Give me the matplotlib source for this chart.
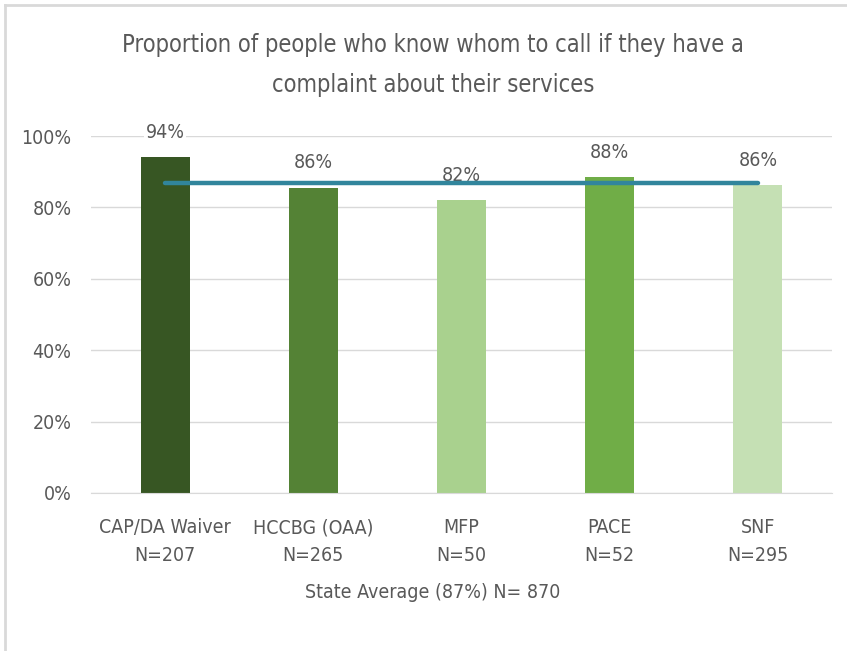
import matplotlib.pyplot as plt
from matplotlib.ticker import PercentFormatter
from matplotlib import font_manager

categories = ["CAP/DA Waiver", "HCCBG (OAA)", "MFP", "PACE", "SNF"]
sample_sizes = ["N=207", "N=265", "N=50", "N=52", "N=295"]
values = [94.1, 85.5, 82.1, 88.4, 86.2]
value_labels = ["94%", "86%", "82%", "88%", "86%"]
state_average = 86.8
bar_colors = ["#375623", "#548235", "#A9D18E", "#70AD47", "#C5E0B4"]

condensed = any("Condensed" in f.fname for f in font_manager.fontManager.ttflist
                if f.name == "DejaVu Sans")
plt.rcParams['font.family'] = ['DejaVu Sans']
if condensed:
    plt.rcParams['font.stretch'] = 'condensed'
scale = 1.0 if condensed else 0.86
text_gray = "#595959"

fig = plt.figure(figsize=(8.47, 6.51), dpi=100)
ax = fig.add_axes([91 / 847, 1 - 493 / 651, 741 / 847, 357 / 651])

x = list(range(len(categories)))
ax.bar(x, values, width=0.33, color=bar_colors, zorder=2)
ax.plot([x[0], x[-1]], [state_average] * 2, color="#31859C", lw=3.2,
        solid_capstyle="round", zorder=4)

for xi, v, lab in zip(x, values, value_labels):
    ax.annotate(lab, (xi, v), xytext=(0, 11), textcoords="offset points",
                ha="center", va="bottom", fontsize=14 * scale, color=text_gray,
                bbox=dict(facecolor="white", edgecolor="none", pad=1), zorder=3)

ax.set_xlim(-0.5, len(categories) - 0.5)
ax.set_ylim(0, 100)
ax.set_yticks(range(0, 101, 20))
ax.yaxis.set_major_formatter(PercentFormatter(decimals=0))
ax.grid(axis="y", color="#D9D9D9", lw=1, zorder=0)
ax.set_xticks(x)
ax.set_xticklabels([f"{c}\n{n}" for c, n in zip(categories, sample_sizes)],
                   linespacing=1.6)
ax.tick_params(axis="both", length=0, labelsize=14 * scale, labelcolor=text_gray)
ax.tick_params(axis="x", pad=18)
ax.tick_params(axis="y", pad=14)
for s in ax.spines.values():
    s.set_visible(False)
ax.spines["bottom"].set_visible(True)
ax.spines["bottom"].set_color("#D9D9D9")

fig.text(433 / 847, 1 - 592 / 651, "State Average (87%) N= 870", ha="center",
         va="center", fontsize=14 * scale, color=text_gray)
fig.text(433 / 847, 1 - 65 / 651,
         "Proportion of people who know whom to call if they have a\ncomplaint about their services",
         ha="center", va="center", fontsize=17 * scale, color=text_gray, linespacing=1.85)

# light frame around the chart
fig.add_artist(plt.Line2D([5 / 847, 1], [1 - 5 / 651] * 2, color="#D9D9D9", lw=2,
                          transform=fig.transFigure))
fig.add_artist(plt.Line2D([5 / 847] * 2, [0, 1 - 5 / 651], color="#D9D9D9", lw=2,
                          transform=fig.transFigure))

fig.savefig("out.png", dpi=100)
